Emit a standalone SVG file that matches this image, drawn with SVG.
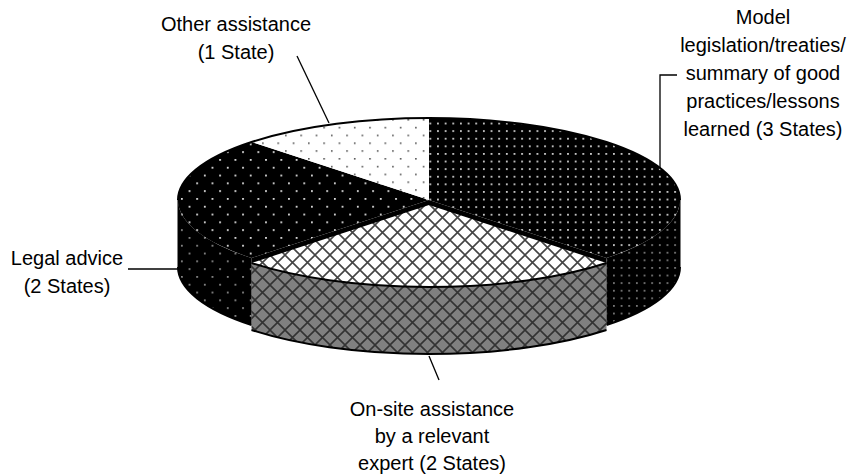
<svg xmlns="http://www.w3.org/2000/svg" width="862" height="476" viewBox="0 0 862 476">
  <style>
    .lbl { font-family: "Liberation Sans", Arial, sans-serif; font-size: 20px; fill: #000; text-anchor: middle; }
    .lead { stroke: #000; stroke-width: 1.3; fill: none; }
    .edge { stroke: #000; stroke-width: 2; stroke-linejoin: round; }
  </style>
  <defs>
    <!-- sparse staggered dots, dark on white -->
    <pattern id="dotsLight" patternUnits="userSpaceOnUse" width="15.3" height="15.6" x="2" y="2">
      <rect width="15.3" height="15.6" fill="#fff"/>
      <rect x="0" y="0" width="1.6" height="1.6" fill="#555"/>
      <rect x="7.65" y="7.8" width="1.6" height="1.6" fill="#555"/>
    </pattern>
    <!-- sparse staggered dots, light on black -->
    <pattern id="dotsSparseTop" patternUnits="userSpaceOnUse" width="15.3" height="15.6" x="5" y="3">
      <rect width="15.3" height="15.6" fill="#000"/>
      <rect x="0" y="0" width="1.8" height="1.8" fill="#ddd"/>
      <rect x="7.65" y="7.8" width="1.8" height="1.8" fill="#ddd"/>
    </pattern>
    <pattern id="dotsSparseSide" patternUnits="userSpaceOnUse" width="15.3" height="15.6" x="5" y="3">
      <rect width="15.3" height="15.6" fill="#000"/>
      <rect x="0" y="0" width="1.8" height="1.8" fill="#888"/>
      <rect x="7.65" y="7.8" width="1.8" height="1.8" fill="#888"/>
    </pattern>
    <!-- dense dot grid, light on black -->
    <pattern id="dotsDenseTop" patternUnits="userSpaceOnUse" width="7.65" height="7.6" x="1" y="1">
      <rect width="7.65" height="7.6" fill="#000"/>
      <rect x="0" y="0" width="1.8" height="1.8" fill="#ccc"/>
    </pattern>
    <pattern id="dotsDenseSide" patternUnits="userSpaceOnUse" width="7.65" height="7.6" x="1" y="1">
      <rect width="7.65" height="7.6" fill="#000"/>
      <rect x="0" y="0" width="1.8" height="1.8" fill="#777"/>
    </pattern>
    <!-- diagonal crosshatch -->
    <pattern id="hatchTop" patternUnits="userSpaceOnUse" width="15" height="15">
      <rect width="15" height="15" fill="#fff"/>
      <path d="M0,0 L15,15 M15,0 L0,15 M-1,14 L1,16 M14,-1 L16,1 M-1,1 L1,-1 M14,16 L16,14" stroke="#444" stroke-width="1.6"/>
    </pattern>
    <pattern id="hatchSide" patternUnits="userSpaceOnUse" width="15" height="15">
      <rect width="15" height="15" fill="#808080"/>
      <path d="M0,0 L15,15 M15,0 L0,15 M-1,14 L1,16 M14,-1 L16,1 M-1,1 L1,-1 M14,16 L16,14" stroke="#333" stroke-width="1.6"/>
    </pattern>
  </defs>

  <rect width="862" height="476" fill="#fff"/>

  <!-- pie body: centre (429,200), rx 251, ry 82, depth 67 -->
  <g id="slice-legal">
    <!-- outer wall, 135..180 deg -->
    <path d="M178,200 A251,82 0 0 0 251.5,258 L251.5,325 A251,82 0 0 1 178,267 Z" fill="url(#dotsSparseSide)"/>
    <!-- cut face at 135 deg -->
    <path d="M429,200 L251.5,258 L251.5,325 L429,267 Z" fill="#000"/>
    <!-- top face, 135..225 deg -->
    <path d="M429,200 L251.5,258 A251,82 0 0 1 251.5,142 Z" fill="url(#dotsSparseTop)"/>
  </g>

  <g id="slice-model">
    <!-- outer wall, 0..45 deg -->
    <path d="M680,200 A251,82 0 0 1 606.5,258 L606.5,325 A251,82 0 0 0 680,267 Z" fill="url(#dotsDenseSide)"/>
    <!-- cut face at 45 deg -->
    <path d="M429,200 L606.5,258 L606.5,325 L429,267 Z" fill="#000"/>
    <!-- top face, -90..45 deg -->
    <path d="M429,200 L429,118 A251,82 0 0 1 606.5,258 Z" fill="url(#dotsDenseTop)"/>
  </g>

  <g id="slice-other">
    <!-- top face, 225..270 deg -->
    <path d="M429,200 L251.5,142 A251,82 0 0 1 429,118 Z" fill="url(#dotsLight)"/>
  </g>

  <!-- rim of the top face -->
  <path d="M178,200 A251,82 0 0 1 680,200" fill="none" class="edge"/>
  <path d="M178,200 L178,267 M680,200 L680,267" fill="none" stroke="#000" stroke-width="1"/>
  <path d="M178,267 A251,82 0 0 0 251.5,325 M680,267 A251,82 0 0 1 606.5,325" fill="none" class="edge"/>

  <!-- exploded slice, shifted 5 px down -->
  <g id="slice-onsite">
    <path d="M606.5,263 A251,82 0 0 1 251.5,263 L251.5,330 A251,82 0 0 0 606.5,330 Z" fill="url(#hatchSide)"/>
    <path d="M429,205 L606.5,263 A251,82 0 0 1 251.5,263 Z" fill="url(#hatchTop)"/>
    <path d="M606.5,263 A251,82 0 0 1 251.5,263 M251.5,330 A251,82 0 0 0 606.5,330" fill="none" class="edge"/>
  </g>

  <!-- leader lines -->
  <g id="connectors">
    <path class="lead" d="M297,56 L329,123"/>
    <path class="lead" d="M677,75 L660,75 L660,168"/>
    <path class="lead" d="M128,269 L178,269"/>
    <path class="lead" d="M429,356 L439,380"/>
  </g>

  <!-- labels -->
  <g id="label-other">
    <text class="lbl" x="236" y="31">Other assistance</text>
    <text class="lbl" x="236" y="59">(1 State)</text>
  </g>
  <g id="label-model">
    <text class="lbl" x="763" y="24">Model</text>
    <text class="lbl" x="763" y="52">legislation/treaties/</text>
    <text class="lbl" x="763" y="80">summary of good</text>
    <text class="lbl" x="763" y="108">practices/lessons</text>
    <text class="lbl" x="763" y="136">learned (3 States)</text>
  </g>
  <g id="label-legal">
    <text class="lbl" x="67" y="265">Legal advice</text>
    <text class="lbl" x="67" y="293">(2 States)</text>
  </g>
  <g id="label-onsite">
    <text class="lbl" x="432" y="416">On-site assistance</text>
    <text class="lbl" x="432" y="443">by a relevant</text>
    <text class="lbl" x="432" y="470">expert (2 States)</text>
  </g>
</svg>
